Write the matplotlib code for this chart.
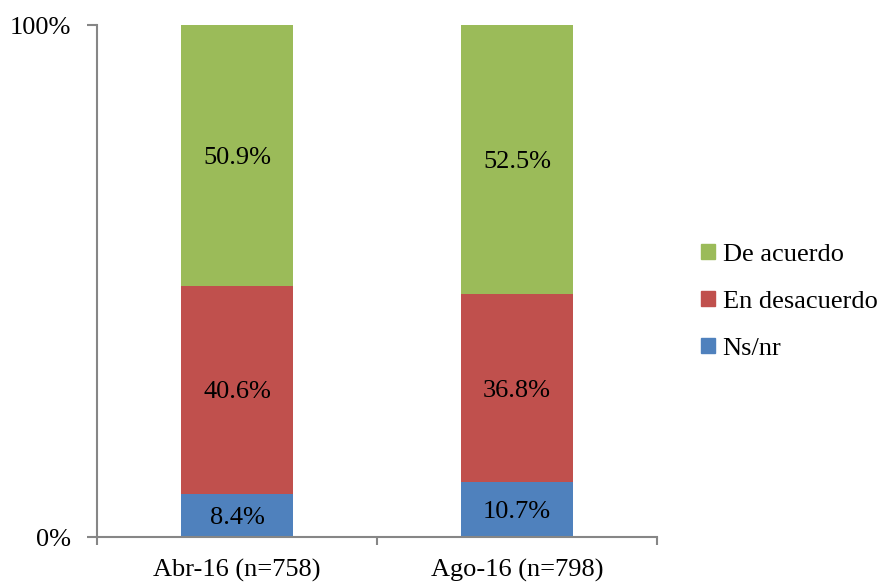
import numpy as np
import matplotlib.pyplot as plt
from matplotlib.patches import Patch

plt.rcParams['font.family'] = ['Liberation Serif', 'DejaVu Serif']

# ----------------------------
# datos
# ----------------------------
categorias = ["Abr-16 (n=758)", "Ago-16 (n=798)"]
ns_nr = [8.4, 10.7]
en_desacuerdo = [40.6, 36.8]
de_acuerdo = [50.9, 52.5]

series = [
    ("Ns/nr", ns_nr, "#4F81BD"),
    ("En desacuerdo", en_desacuerdo, "#C0504D"),
    ("De acuerdo", de_acuerdo, "#9BBB59"),
]

# 100% apilado
total = np.array(ns_nr) + np.array(en_desacuerdo) + np.array(de_acuerdo)

fig = plt.figure(figsize=(8.79, 5.85), dpi=100)
ax = fig.add_axes([97 / 879, 1 - 537 / 585, (657 - 97) / 879, (537 - 25) / 585])

x = np.arange(len(categorias))
bottom = np.zeros(len(categorias))
for nombre, vals, color in series:
    h = np.array(vals) / total * 100
    ax.bar(x, h, width=0.4, bottom=bottom, color=color, label=nombre)
    for xi, b, hi, v in zip(x, bottom, h, vals):
        ax.text(xi, b + hi / 2, f"{v:.1f}%", ha="center", va="center_baseline", fontsize=19)
    bottom += h

ax.set_xlim(-0.5, 1.5)
ax.set_ylim(0, 100)
ax.set_yticks([0, 100])
ax.set_yticklabels(["0%", "100%"], fontsize=19)
ax.set_xticks(x)
ax.set_xticklabels(categorias, fontsize=19)
ax.set_xticks([-0.5, 0.5, 1.5], minor=True)
ax.tick_params(axis="x", which="major", length=0, pad=16)
ax.tick_params(axis="x", which="minor", length=6, color="#868686", width=1.5)
ax.tick_params(axis="y", length=7, color="#868686", width=1.5, pad=12)

for s in ["top", "right"]:
    ax.spines[s].set_visible(False)
for s in ["left", "bottom"]:
    ax.spines[s].set_color("#868686")
    ax.spines[s].set_linewidth(1.5)

handles = [Patch(color=c, label=n) for n, _, c in series[::-1]]
fig.legend(handles=handles, loc="center left", bbox_to_anchor=(0.771, 0.484),
           frameon=False, fontsize=19, handlelength=0.5, handleheight=0.5,
           handletextpad=0.3, labelspacing=0.95)

fig.savefig("out.png", dpi=100)
